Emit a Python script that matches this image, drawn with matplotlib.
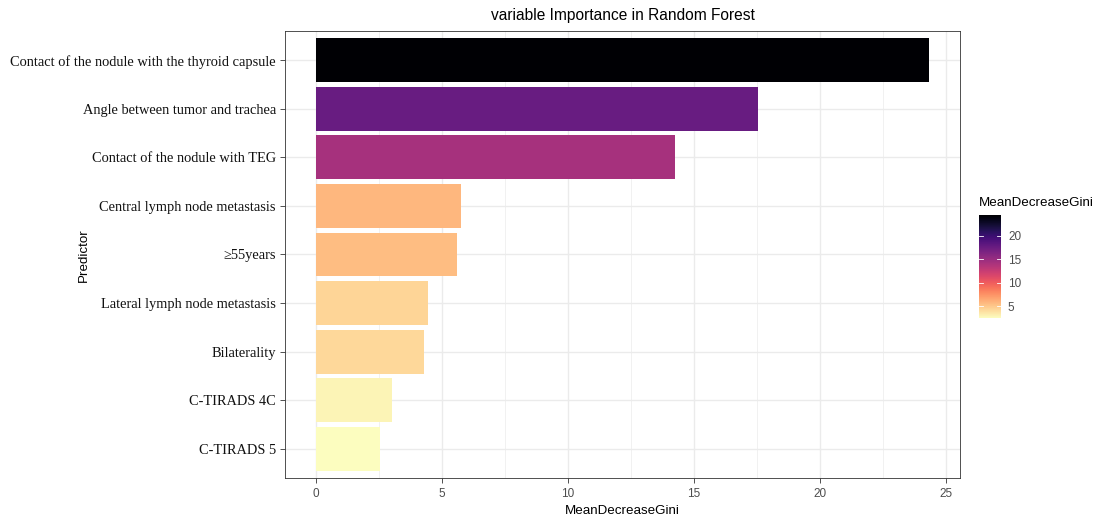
import numpy as np
import matplotlib
matplotlib.use("Agg")
import matplotlib.pyplot as plt
from matplotlib.colors import Normalize
from matplotlib.ticker import MultipleLocator

# random forest importance, bottom to top
predictors = ["C-TIRADS 5", "C-TIRADS 4C", "Bilaterality",
              "Lateral lymph node metastasis", "\u226555years",
              "Central lymph node metastasis", "Contact of the nodule with TEG",
              "Angle between tumor and trachea",
              "Contact of the nodule with the thyroid capsule"]
gini = [2.54, 3.01, 4.28, 4.44, 5.59, 5.78, 14.26, 17.56, 24.34]

plt.rcParams["font.family"] = ["Liberation Sans", "DejaVu Sans"]

fig = plt.figure(figsize=(10.95, 5.17), dpi=100)
ax = fig.add_axes([285 / 1095, 39 / 517, 675 / 1095, 447 / 517])

cmap = plt.get_cmap("magma_r")
norm = Normalize(vmin=min(gini), vmax=max(gini))
ypos = np.arange(len(predictors))
ax.barh(ypos, gini, height=0.9, color=cmap(norm(np.array(gini))), zorder=3)

xmax = max(gini)
ax.set_xlim(-0.05 * xmax, 1.05 * xmax)
ax.set_ylim(-0.6, len(predictors) - 0.4)
ax.xaxis.set_major_locator(MultipleLocator(5))
ax.xaxis.set_minor_locator(MultipleLocator(2.5))
ax.set_yticks(ypos)
ax.set_yticklabels(predictors, family=["Liberation Serif", "DejaVu Serif"],
                   fontsize=10.4, color="#111111")
ax.tick_params(axis="x", which="major", labelsize=8.5, labelcolor="#4d4d4d",
               color="#333333", length=3.5, width=0.6)
ax.tick_params(axis="x", which="minor", length=0)
ax.tick_params(axis="y", color="#333333", length=3.5, width=0.6, pad=3)
ax.grid(which="major", color="#ebebeb", linewidth=1.0, zorder=0)
ax.grid(which="minor", axis="x", color="#ebebeb", linewidth=0.5, zorder=0)
for s in ax.spines.values():
    s.set_color("#333333")
    s.set_linewidth(0.6)

ax.set_xlabel("MeanDecreaseGini", fontsize=9.6, labelpad=4)
ax.set_title("variable Importance in Random Forest", fontsize=11.2, pad=8)
fig.text(84 / 1095, 1 - 255 / 517, "Predictor", fontsize=9.6, rotation=90,
         ha="center", va="center")

# colourbar legend
cax = fig.add_axes([979 / 1095, (517 - 318) / 517, 22 / 1095, 103 / 517])
sm = matplotlib.cm.ScalarMappable(norm=norm, cmap=cmap)
cb = fig.colorbar(sm, cax=cax)
cb.outline.set_visible(False)
cb.set_ticks([5, 10, 15, 20])
cax.tick_params(labelsize=8.5, labelcolor="#4d4d4d", length=0, pad=5)
for v in [5, 10, 15, 20]:
    cax.plot([0, 0.2], [v, v], color="white", lw=0.6, transform=cax.get_yaxis_transform())
    cax.plot([0.8, 1], [v, v], color="white", lw=0.6, transform=cax.get_yaxis_transform())
fig.text(979 / 1095, 1 - 203 / 517, "MeanDecreaseGini", fontsize=9.6, va="center")

fig.savefig("out.png", dpi=100)
